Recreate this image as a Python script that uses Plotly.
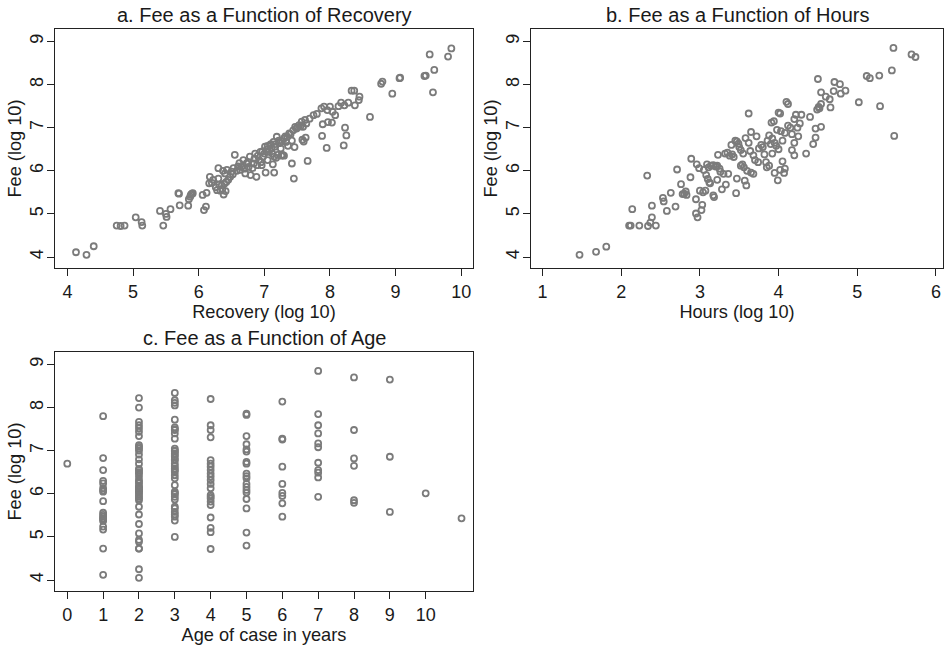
import plotly.graph_objects as go

# ---------------- Panel a: Fee vs Recovery (log10) ----------------
recovery = [4.13, 4.29, 4.40, 4.75, 4.81, 4.87, 5.04, 5.13, 5.14, 5.41,
            5.46, 5.50, 5.51, 5.57, 5.69, 5.70, 5.71, 5.84, 5.85, 5.87,
            5.88, 5.89, 5.90, 5.91, 6.06, 6.08, 6.11, 6.12, 6.16, 6.17,
            6.20, 6.22, 6.30, 6.30, 6.28, 6.33, 6.36, 6.38, 6.41, 6.35,
            6.39, 6.42, 6.45, 6.48, 6.40, 6.43, 6.37, 6.50, 6.53, 6.55,
            6.58, 6.63, 6.65, 6.68, 6.71, 6.73, 6.76, 6.78, 6.79, 6.82,
            6.84, 6.86, 6.88, 6.89, 6.92, 6.94, 6.96, 6.98, 7.01, 7.02,
            7.04, 7.06, 7.09, 7.11, 7.13, 7.14, 7.15, 7.15, 7.16, 7.19,
            7.20, 7.23, 7.25, 7.28, 7.30, 7.33, 7.35, 7.38, 7.42, 7.45,
            7.46, 7.44, 7.47, 7.49, 7.53, 7.57, 7.59, 7.60, 7.62, 7.63,
            7.64, 7.66, 7.69, 7.75, 7.80, 7.87, 7.88, 7.89, 7.91, 7.95,
            7.96, 7.97, 8.00, 8.03, 8.04, 8.08, 8.13, 8.17, 8.21, 8.22,
            8.23, 8.25, 8.28, 8.33, 8.37, 8.38, 8.44, 8.45, 8.61, 8.78,
            8.80, 8.95, 9.06, 9.07, 9.44, 9.46, 9.52, 9.57, 9.59, 9.80,
            9.85, 6.60, 6.70, 6.75, 6.90, 6.97, 7.00, 7.05, 7.08, 7.10,
            7.17, 7.22, 7.27, 7.32, 7.40, 7.50, 7.55, 6.62, 6.52, 6.85,
            7.12, 7.26, 7.36, 7.42, 7.58, 6.26, 6.31, 6.95, 7.05, 7.18,
            7.30]
fee_a = [4.11, 4.05, 4.25, 4.73, 4.72, 4.73, 4.92, 4.81, 4.73, 5.07,
         4.73, 5.00, 4.93, 5.11, 5.48, 5.47, 5.20, 5.19, 5.34, 5.40,
         5.44, 5.46, 5.47, 5.48, 5.44, 5.09, 5.17, 5.49, 5.71, 5.86,
         5.72, 5.79, 6.06, 5.82, 5.55, 5.54, 5.58, 5.45, 5.53, 5.66,
         5.70, 5.74, 5.79, 5.86, 5.94, 6.02, 6.00, 5.98, 6.06, 6.37,
         6.00, 6.02, 6.09, 6.25, 5.94, 6.17, 6.09, 6.33, 5.90, 6.06,
         6.17, 6.40, 5.86, 6.13, 6.25, 6.44, 6.13, 6.33, 6.56, 5.96,
         6.50, 6.44, 6.60, 6.52, 6.15, 6.67, 5.96, 6.33, 6.56, 6.79,
         6.37, 6.64, 6.52, 6.37, 6.75, 6.67, 6.79, 6.87, 6.17, 5.82,
         6.55, 6.94, 7.02, 6.98, 7.06, 7.14, 7.02, 6.68, 7.18, 6.77,
         7.10, 6.23, 7.21, 7.29, 7.32, 7.45, 6.81, 7.08, 7.49, 6.53,
         7.41, 7.13, 7.49, 7.12, 7.37, 7.29, 7.50, 7.58, 6.59, 7.52,
         7.00, 6.82, 7.58, 7.86, 7.86, 7.52, 7.64, 7.72, 7.25, 8.02,
         8.07, 7.79, 8.15, 8.16, 8.20, 8.21, 8.70, 7.82, 8.34, 8.65,
         8.84, 6.10, 6.05, 6.20, 6.35, 6.45, 6.40, 6.58, 6.48, 6.62,
         6.62, 6.70, 6.68, 6.80, 6.85, 7.00, 7.03, 6.18, 5.92, 6.28,
         6.40, 6.35, 6.58, 6.70, 6.72, 5.62, 5.68, 6.20, 6.25, 6.30,
         6.35]

# ---------------- Panel b: Fee vs Hours (log10) ----------------
hours = [1.47, 1.68, 1.81, 2.10, 2.12, 2.14, 2.23, 2.33, 2.34, 2.37,
         2.39, 2.44, 2.39, 2.53, 2.54, 2.58, 2.63, 2.69, 2.71, 2.76,
         2.78, 2.80, 2.82, 2.83, 2.88, 2.89, 2.95, 2.95, 2.97, 2.96,
         2.99, 3.00, 3.04, 3.07, 3.02, 3.03, 3.05, 3.08, 3.10, 3.12,
         3.13, 3.09, 3.11, 3.14, 3.17, 3.20, 3.22, 3.25, 3.17, 3.18,
         3.22, 3.23, 3.28, 3.26, 3.30, 3.32, 3.35, 3.38, 3.41, 3.43,
         3.33, 3.36, 3.46, 3.45, 3.47, 3.49, 3.47, 3.50, 3.52, 3.52,
         3.54, 3.56, 3.57, 3.59, 3.62, 3.58, 3.62, 3.65, 3.64, 3.68,
         3.70, 3.65, 3.68, 3.72, 3.75, 3.80, 3.82, 3.84, 3.88, 3.85,
         3.86, 3.88, 3.90, 3.92, 3.95, 3.97, 3.91, 3.94, 3.98, 4.00,
         4.02, 3.95, 3.99, 4.02, 4.05, 4.07, 4.08, 4.10, 4.12, 4.05,
         4.08, 4.12, 4.15, 4.17, 4.20, 4.22, 4.24, 4.20, 4.17, 4.20,
         4.25, 4.27, 4.29, 4.35, 4.40, 4.44, 4.47, 4.47, 4.54, 4.50,
         4.49, 4.51, 4.52, 4.54, 4.54, 4.60, 4.65, 4.66, 4.71, 4.70,
         4.78, 4.79, 4.85, 5.02, 5.12, 5.16, 5.28, 5.29, 5.44, 5.46,
         5.47, 5.69, 5.74, 3.60, 3.55, 3.78, 3.92, 4.00, 4.03, 3.74,
         3.40]
fee_b = [4.05, 4.12, 4.24, 4.73, 4.73, 5.11, 4.73, 5.89, 4.72, 4.80,
         4.92, 4.73, 5.19, 5.37, 5.29, 5.07, 5.49, 5.17, 6.03, 5.69,
         5.46, 5.47, 5.52, 5.44, 5.85, 6.28, 5.34, 5.01, 4.92, 6.15,
         6.06, 5.54, 5.50, 5.54, 5.09, 5.21, 6.02, 5.90, 5.81, 5.73,
         5.71, 6.15, 6.08, 6.12, 6.13, 6.10, 6.12, 6.05, 5.43, 5.39,
         5.79, 6.37, 5.57, 5.98, 5.93, 6.40, 6.42, 6.35, 6.38, 6.32,
         5.68, 5.93, 5.48, 6.70, 6.68, 6.63, 5.82, 6.55, 6.48, 6.12,
         6.15, 6.08, 5.77, 5.66, 7.33, 6.76, 6.65, 6.90, 6.46, 6.36,
         6.25, 5.96, 5.93, 6.80, 6.52, 6.55, 6.38, 6.20, 6.12, 6.08,
         6.70, 6.82, 6.62, 6.75, 6.65, 6.58, 7.12, 7.15, 6.95, 7.35,
         7.33, 5.95, 5.78, 6.02, 6.22, 5.95, 6.05, 7.60, 7.55, 6.70,
         6.88, 7.05, 7.00, 6.85, 7.20, 7.30, 7.00, 6.65, 6.48, 6.36,
         6.80, 7.10, 7.30, 6.40, 7.25, 6.62, 6.77, 6.98, 7.02, 8.13,
         7.42, 7.48, 7.45, 7.55, 7.82, 7.72, 7.66, 7.47, 8.06, 7.85,
         8.01, 7.79, 7.86, 7.59, 8.20, 8.15, 8.21, 7.50, 8.33, 8.85,
         6.81, 8.70, 8.64, 6.00, 6.40, 6.60, 6.40, 6.50, 6.92, 6.20,
         6.60]

# ---------------- Panel c: Fee vs Age of case ----------------
ages = [0, 1, 2, 3, 4, 5, 6, 7, 8, 9, 10, 11]
fee_by_age = [
    [6.70],
    [7.80, 6.83, 6.55, 6.30, 6.24, 6.13, 6.08, 6.05, 5.83, 5.56, 5.51, 5.47,
     5.43, 5.41, 5.37, 5.24, 5.17, 4.73, 4.12],
    [8.22, 8.00, 7.67, 7.59, 7.52, 7.44, 7.34, 7.13, 7.09, 7.05, 7.00, 6.91,
     6.80, 6.70, 6.58, 6.55, 6.50, 6.47, 6.40, 6.32, 6.28, 6.24, 6.18, 6.15,
     6.13, 6.10, 6.07, 6.05, 6.02, 5.97, 5.93, 5.89, 5.85, 5.70, 5.52, 5.30,
     5.08, 4.93, 4.89, 4.73, 4.73, 4.25, 4.05],
    [8.34, 8.17, 8.11, 8.05, 7.72, 7.54, 7.50, 7.48, 7.40, 7.28, 7.05, 7.00,
     6.99, 6.94, 6.90, 6.86, 6.80, 6.78, 6.70, 6.64, 6.59, 6.55, 6.51, 6.43,
     6.36, 6.20, 6.05, 6.02, 5.99, 5.93, 5.87, 5.70, 5.66, 5.58, 5.52, 5.47,
     5.38, 5.00],
    [8.20, 7.59, 7.48, 7.31, 6.78, 6.70, 6.63, 6.55, 6.47, 6.40, 6.32, 6.23,
     6.13, 5.97, 5.93, 5.89, 5.82, 5.74, 5.45, 5.21, 5.11, 4.72],
    [7.86, 7.83, 7.34, 7.15, 7.03, 6.98, 6.74, 6.70, 6.47, 6.41, 6.36, 6.23,
     6.16, 6.09, 6.03, 5.88, 5.66, 5.10, 4.80],
    [8.14, 7.28, 7.26, 6.63, 6.23, 6.02, 5.95, 5.78, 5.47],
    [8.85, 7.85, 7.59, 7.40, 7.17, 7.08, 6.72, 6.55, 6.49, 6.38, 5.93],
    [8.70, 7.48, 6.82, 6.65, 5.85, 5.79],
    [8.65, 6.86, 5.58],
    [6.01],
    [5.43],
]

titles = ["a. Fee as a Function of Recovery",
          "b. Fee as a Function of Hours",
          "c. Fee as a Function of Age"]
x_titles = ["Recovery (log 10)", "Hours (log 10)", "Age of case in years"]
y_title = "Fee (log 10)"

age_x = [a for a, fs in zip(ages, fee_by_age) for _ in fs]
age_y = [f for fs in fee_by_age for f in fs]

FONT = "Liberation Sans, Arial, Helvetica, sans-serif"
TXT = "#1a1a1a"
MCOL = "#7b7b7b"
marker = dict(symbol="circle-open", size=6, color=MCOL,
              line=dict(width=1.8, color=MCOL))

fig = go.Figure()
fig.add_trace(go.Scatter(x=recovery, y=fee_a, mode="markers", marker=marker,
                         xaxis="x", yaxis="y", showlegend=False))
fig.add_trace(go.Scatter(x=hours, y=fee_b, mode="markers", marker=marker,
                         xaxis="x2", yaxis="y2", showlegend=False))
fig.add_trace(go.Scatter(x=age_x, y=age_y, mode="markers", marker=marker,
                         xaxis="x3", yaxis="y3", showlegend=False))

W, H = 950, 645


def xdom(l, r):
    return [l / W, r / W]


def ydom(t, b):
    return [1 - b / H, 1 - t / H]


common = dict(showgrid=False, zeroline=False, showline=True, mirror=True,
              linecolor="#222222", linewidth=1.3, ticks="outside", ticklen=7,
              tickwidth=1.2, tickcolor="#222222",
              tickfont=dict(family=FONT, size=18, color=TXT),
              title_font=dict(family=FONT, size=18.2, color=TXT))

yticks = [4, 5, 6, 7, 8, 9]
ycommon = dict(range=[3.745, 9.29], tickvals=yticks, tickangle=-90,
               ticklabelstandoff=-3,
               title=dict(text=y_title, standoff=0), **common)

fig.update_layout(
    width=W, height=H,
    margin=dict(l=0, r=0, t=0, b=0),
    paper_bgcolor="white", plot_bgcolor="white",
    font=dict(family=FONT, color=TXT),
    xaxis=dict(domain=xdom(55, 473), range=[3.81, 10.18],
               tickvals=[4, 5, 6, 7, 8, 9, 10], anchor="y",
               title=dict(text=x_titles[0], standoff=0), **common),
    yaxis=dict(domain=ydom(29, 268), anchor="x", **ycommon),
    xaxis2=dict(domain=xdom(531, 943), range=[0.853, 6.09],
                tickvals=[1, 2, 3, 4, 5, 6], anchor="y2",
                title=dict(text=x_titles[1], standoff=0), **common),
    yaxis2=dict(domain=ydom(29, 268), anchor="x2", **ycommon),
    xaxis3=dict(domain=xdom(55, 473), range=[-0.343, 11.32],
                tickvals=list(range(0, 11)), anchor="y3",
                title=dict(text=x_titles[2], standoff=0), **common),
    yaxis3=dict(domain=ydom(352, 591), anchor="x3", **ycommon),
)

title_pos = [((55 + 473) / 2, 15), ((531 + 943) / 2, 15), ((55 + 473) / 2, 338)]
for t, (cx, cy) in zip(titles, title_pos):
    fig.add_annotation(text=t, x=cx / W, y=1 - cy / H, xref="paper",
                       yref="paper", showarrow=False, xanchor="center",
                       yanchor="middle",
                       font=dict(family=FONT, size=20, color=TXT))

fig.write_html("out.html")
